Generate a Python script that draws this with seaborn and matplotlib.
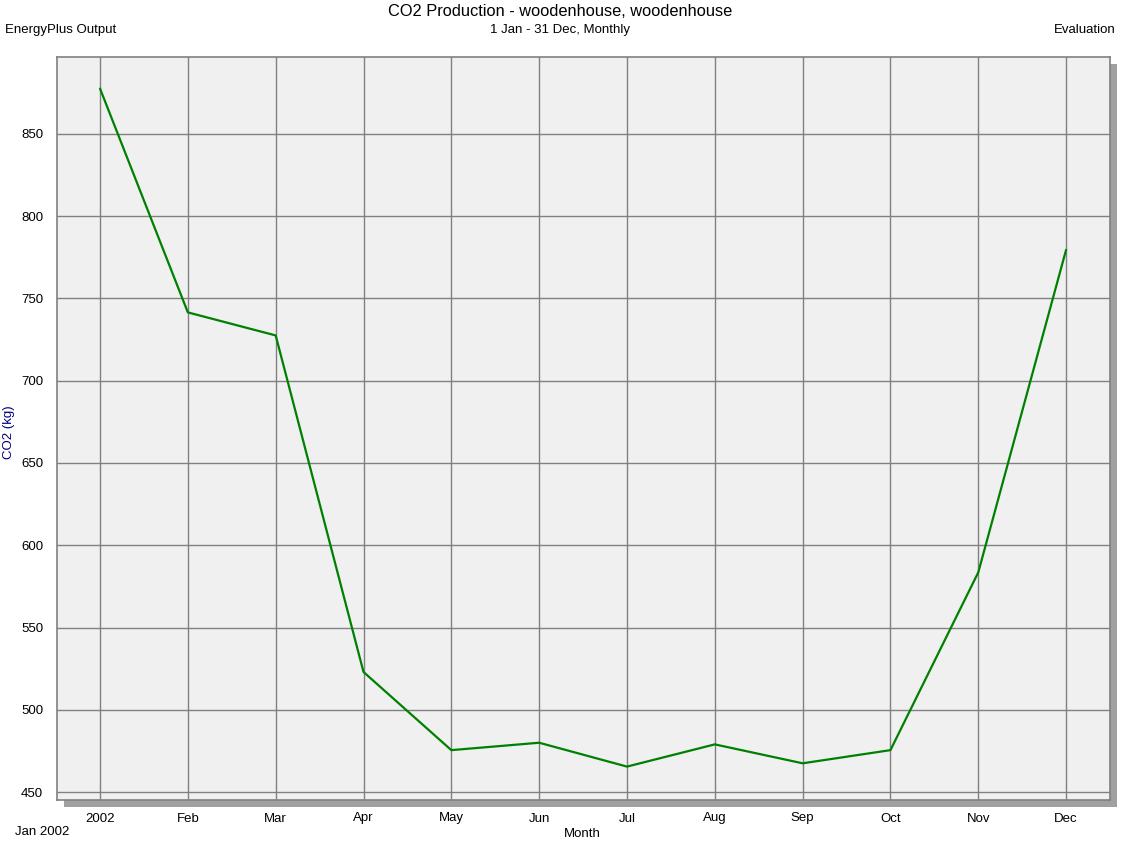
import matplotlib
matplotlib.use('Agg')
import matplotlib.pyplot as plt
from matplotlib.patches import Rectangle
import pandas as pd
import seaborn as sns

months = ['2002', 'Feb', 'Mar', 'Apr', 'May', 'Jun', 'Jul', 'Aug', 'Sep', 'Oct', 'Nov', 'Dec']
co2_kg = [877.5, 741.5, 727.5, 523.0, 475.5, 480.0, 465.5, 479.0, 467.5, 475.5, 583.5, 779.5]
y_ticks = [450, 500, 550, 600, 650, 700, 750, 800, 850]


def main():
    sns.set_style('white')
    plt.rcParams['font.family'] = ['Liberation Sans', 'DejaVu Sans']
    plt.rcParams['text.color'] = 'black'

    df = pd.DataFrame({'idx': range(len(months)), 'CO2': co2_kg})

    fig = plt.figure(figsize=(11.21, 8.48), dpi=100)
    ax = fig.add_axes([57 / 1121, 1 - 800 / 848, 1053 / 1121, 743.5 / 848])
    ax.set_zorder(1)

    # drop shadow behind the plot frame
    shadow = Rectangle((64 / 1121, 1 - 807 / 848), 1053 / 1121, 743.5 / 848,
                       transform=fig.transFigure, facecolor='#a0a0a0',
                       edgecolor='none', zorder=-1)
    fig.patches.append(shadow)

    ax.set_facecolor('#eff0ef')
    sns.lineplot(data=df, x='idx', y='CO2', color='#008000', linewidth=1.6, ax=ax, zorder=3)

    ax.set_xlim(-0.49, 11.5)
    ax.set_ylim(445.2, 897)
    ax.set_xticks(range(len(months)))
    ax.set_xticklabels(months)
    ax.set_yticks(y_ticks)
    ax.grid(True, color='#808080', linewidth=1)
    ax.set_axisbelow(True)
    for s in ax.spines.values():
        s.set_color('#808080')
        s.set_linewidth(1.2)
    ax.tick_params(axis='both', length=7, width=1, color='#808080',
                   labelsize=9.5, labelcolor='black', direction='out')
    ax.tick_params(axis='x', pad=2)
    ax.tick_params(axis='y', pad=3)
    ax.set_xlabel('')
    ax.set_ylabel('')

    fig.text(0.5, 1 - 11 / 848, 'CO2 Production - woodenhouse, woodenhouse',
             ha='center', va='center', fontsize=11.8)
    fig.text(0.5, 1 - 30 / 848, '1 Jan - 31 Dec, Monthly', ha='center', va='center', fontsize=9.5)
    fig.text(5 / 1121, 1 - 30 / 848, 'EnergyPlus Output', ha='left', va='center', fontsize=9.5)
    fig.text(1116 / 1121, 1 - 30 / 848, 'Evaluation', ha='right', va='center', fontsize=9.5)
    fig.text(582 / 1121, 1 - 834 / 848, 'Month', ha='center', va='center', fontsize=9.5)
    fig.text(42 / 1121, 1 - 832 / 848, 'Jan 2002', ha='center', va='center', fontsize=9.5)
    fig.text(9 / 1121, 1 - 432 / 848, 'CO2 (kg)', ha='center', va='center', fontsize=9.5,
             rotation=90, color='#000080')

    fig.savefig('out.png', dpi=100)


if __name__ == "__main__":
    main()
